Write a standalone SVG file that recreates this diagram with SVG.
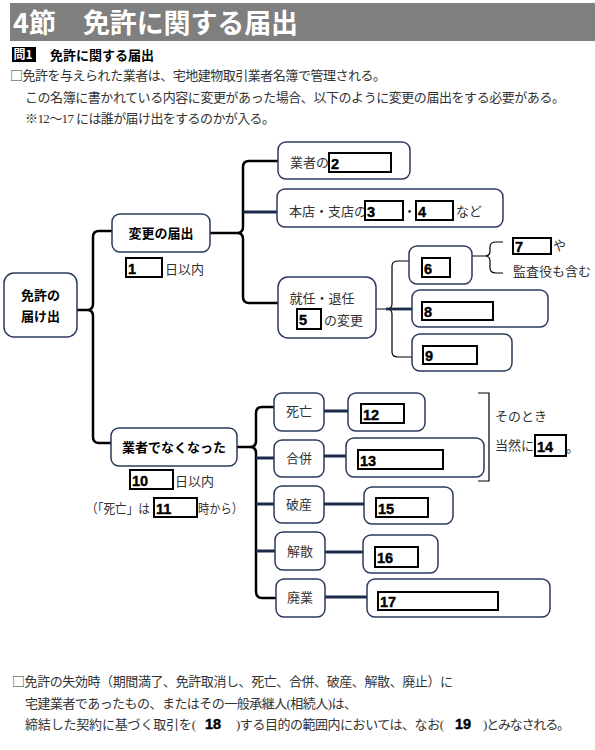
<svg xmlns="http://www.w3.org/2000/svg" width="595" height="750" viewBox="0 0 595 750">
<style>
.m{font-family:"Liberation Serif","Noto Sans CJK JP",serif;font-size:13px;fill:#333}
.j{font-family:"Noto Sans CJK JP",sans-serif}
.b{font-family:"Noto Sans CJK JP",sans-serif;font-weight:bold;font-size:13px;fill:#000}
.n{font-family:"Liberation Sans",Arial,sans-serif;font-weight:bold;font-size:14.5px;fill:#000;stroke:#000;stroke-width:0.4}
.node{fill:#fff;stroke:#2b3a5c;stroke-width:1.5}
.ans{fill:#fff;stroke:#000;stroke-width:2}
.c{fill:none;stroke:#000;stroke-width:2.5}
.t{fill:none;stroke:#000;stroke-width:1.2}
.nv{fill:none;stroke:#1c2a4a;stroke-width:2.8}
</style>
<rect width="595" height="750" fill="#fff"/>
<!-- header -->
<rect x="10" y="3" width="585" height="38" fill="#7f7f7f"/>
<text x="13" y="33" font-family="Noto Sans CJK JP,sans-serif" font-weight="bold" font-size="27" fill="#fff">4節</text>
<text x="83" y="33" font-family="Noto Sans CJK JP,sans-serif" font-weight="bold" font-size="27" fill="#fff" textLength="215">免許に関する届出</text>
<rect x="12" y="47" width="24" height="15" fill="#000"/>
<text x="13.5" y="59" font-family="Noto Sans CJK JP,sans-serif" font-weight="bold" font-size="12" fill="#fff">問1</text>
<text x="50" y="60" class="b" font-size="13.5">免許に関する届出</text>
<text x="10" y="80" class="m" fill="#222" textLength="376"><tspan class="j">□</tspan>免許を与えられた業者は、宅地建物取引業者名簿で管理される。</text>
<text x="25" y="102" class="m" fill="#222" textLength="540">この名簿に書かれている内容に変更があった場合、以下のように変更の届出をする必要がある。</text>
<text x="25" y="123" class="m" fill="#222" textLength="250"><tspan class="j">※</tspan>12～17 には誰が届け出をするのかが入る。</text>

<g id="connectors">
<path class="c" d="M112,231 H99 Q93,231 93,237 V304 Q93,310 87,310 H77 M87,310 Q93,310 93,316 V437 Q93,443 99,443 H111"/>
<path class="c" d="M278,161 H249 Q243,161 243,167 V227 Q243,233 237,233 H210 M237,233 Q243,233 243,239 V297 Q243,303 249,303 H278"/>
<path class="nv" d="M243,212 H277"/>
<path class="t" d="M409,261 H398 Q392,261 392,266 V304 Q392,309 387,309 H376 M387,309 Q392,309 392,314 V352 Q392,357 398,357 H412"/>
<path class="nv" d="M386,309 H412"/>
<path class="t" d="M503,242 H496 Q490,242 490,247 V251 Q490,256 485,256 H472 M485,256 Q490,256 490,261 V268 Q490,273 496,273 H503"/>
<path class="c" d="M274,407 H262 Q256,407 256,413 V441 Q256,447 250,447 H237 M250,447 Q256,447 256,453 V591 Q256,598 262,598 H276"/>
<path class="nv" d="M256,458 H274 M256,504 H274 M256,551 H275"/>
<path class="nv" d="M324,411 H348 M324,456 H346 M324,504 H364 M325,552 H363 M325,597 H367"/>
<path class="t" d="M478,393 H489 V481 H478"/>
</g>

<g id="n-menkyo">
<rect class="node" x="4" y="273" width="73" height="64" rx="10"/>
<text x="40.5" y="300" class="b" text-anchor="middle">免許の</text>
<text x="40.5" y="321" class="b" text-anchor="middle">届け出</text>
</g>
<g id="n-henkou">
<rect class="node" x="112" y="214" width="98" height="38" rx="8"/>
<text x="161" y="238" class="b" text-anchor="middle">変更の届出</text>
<rect class="ans" x="126" y="258" width="36" height="19"/>
<text x="128" y="274" class="n">1</text>
<text x="165" y="274" class="m">日以内</text>
</g>
<g id="n-gyosha">
<rect class="node" x="278" y="142" width="132" height="37" rx="8"/>
<text x="290" y="167" class="m">業者の</text>
<rect class="ans" x="329" y="153" width="62" height="19"/>
<text x="331" y="169" class="n">2</text>
</g>
<g id="n-honten">
<rect class="node" x="277" y="189" width="226" height="38" rx="8"/>
<text x="289" y="216" class="m">本店・支店の</text>
<rect class="ans" x="365" y="201" width="38" height="19"/>
<text x="367" y="217" class="n">3</text>
<text x="403" y="216" class="m">・</text>
<rect class="ans" x="416" y="201" width="37" height="19"/>
<text x="418" y="217" class="n">4</text>
<text x="456" y="216" class="m">など</text>
</g>
<g id="n-shunin">
<rect class="node" x="278" y="277" width="98" height="61" rx="10"/>
<text x="322" y="303" class="m" text-anchor="middle">就任・退任</text>
<rect class="ans" x="297" y="309" width="24" height="20"/>
<text x="299" y="325" class="n">5</text>
<text x="324" y="325" class="m">の変更</text>
</g>
<g id="n-6">
<rect class="node" x="409" y="246" width="63" height="38" rx="8"/>
<rect class="ans" x="422" y="258" width="28" height="19"/>
<text x="424" y="274" class="n">6</text>
</g>
<g id="n-7">
<rect class="ans" x="513" y="238" width="38" height="16"/>
<text x="515" y="252" class="n">7</text>
<text x="553" y="250" class="m">や</text>
<text x="513" y="276" class="m">監査役も含む</text>
</g>
<g id="n-8">
<rect class="node" x="412" y="290" width="136" height="37" rx="8"/>
<rect class="ans" x="422" y="302" width="71" height="18"/>
<text x="424" y="317" class="n">8</text>
</g>
<g id="n-9">
<rect class="node" x="412" y="334" width="100" height="37" rx="8"/>
<rect class="ans" x="423" y="346" width="54" height="18"/>
<text x="425" y="361" class="n">9</text>
</g>
<g id="n-nakunatta">
<rect class="node" x="111" y="428" width="126" height="38" rx="8"/>
<text x="174" y="452" class="b" text-anchor="middle">業者でなくなった</text>
<rect class="ans" x="130" y="470" width="43" height="19"/>
<text x="132" y="486" class="n">10</text>
<text x="175" y="486" class="m">日以内</text>
<text x="86" y="513" class="m" textLength="64" lengthAdjust="spacingAndGlyphs">（「死亡」は</text>
<rect class="ans" x="154" y="498" width="43" height="19"/>
<text x="156" y="514" class="n">11</text>
<text x="198" y="513" class="m" textLength="45" lengthAdjust="spacingAndGlyphs">時から）</text>
</g>
<g id="n-shibou">
<rect class="node" x="274" y="393" width="50" height="38" rx="8"/>
<text x="299" y="416" class="m" text-anchor="middle">死亡</text>
</g>
<g id="n-gappei">
<rect class="node" x="274" y="440" width="50" height="37" rx="8"/>
<text x="299" y="463" class="m" text-anchor="middle">合併</text>
</g>
<g id="n-hasan">
<rect class="node" x="274" y="486" width="50" height="37" rx="8"/>
<text x="299" y="509" class="m" text-anchor="middle">破産</text>
</g>
<g id="n-kaisan">
<rect class="node" x="275" y="532" width="50" height="38" rx="8"/>
<text x="300" y="556" class="m" text-anchor="middle">解散</text>
</g>
<g id="n-haigyou">
<rect class="node" x="276" y="579" width="49" height="38" rx="8"/>
<text x="300" y="602" class="m" text-anchor="middle">廃業</text>
</g>
<g id="n-12">
<rect class="node" x="348" y="393" width="77" height="38" rx="8"/>
<rect class="ans" x="361" y="404" width="43" height="19"/>
<text x="363" y="420" class="n">12</text>
</g>
<g id="n-13">
<rect class="node" x="346" y="438" width="138" height="39" rx="8"/>
<rect class="ans" x="358" y="450" width="85" height="19"/>
<text x="360" y="466" class="n">13</text>
</g>
<g id="n-14">
<text x="495" y="421" class="m">そのとき</text>
<text x="495" y="450" class="m">当然に</text>
<rect class="ans" x="535" y="435" width="31" height="21"/>
<text x="537" y="452" class="n">14</text>
<text x="566" y="452" class="m">。</text>
</g>
<g id="n-15">
<rect class="node" x="364" y="487" width="89" height="37" rx="8"/>
<rect class="ans" x="376" y="498" width="52" height="19"/>
<text x="378" y="514" class="n">15</text>
</g>
<g id="n-16">
<rect class="node" x="363" y="535" width="75" height="38" rx="8"/>
<rect class="ans" x="375" y="547" width="43" height="20"/>
<text x="377" y="563" class="n">16</text>
</g>
<g id="n-17">
<rect class="node" x="367" y="579" width="183" height="38" rx="8"/>
<rect class="ans" x="378" y="592" width="120" height="18"/>
<text x="380" y="607" class="n">17</text>
</g>

<text x="12" y="686" class="m" fill="#222" textLength="441"><tspan class="j">□</tspan>免許の失効時（期間満了、免許取消し、死亡、合併、破産、解散、廃止）に</text>
<text x="25" y="708" class="m" fill="#222" textLength="332">宅建業者であったもの、またはその一般承継人(相続人)は、</text>
<text x="25" y="729" class="m" fill="#222" textLength="171">締結した契約に基づく取引を(</text>
<text x="205" y="729" class="n">18</text>
<text x="236" y="729" class="m" fill="#222" textLength="208">)する目的の範囲内においては、なお(</text>
<text x="455" y="729" class="n">19</text>
<text x="483" y="729" class="m" fill="#222" textLength="87">)とみなされる。</text>
</svg>
